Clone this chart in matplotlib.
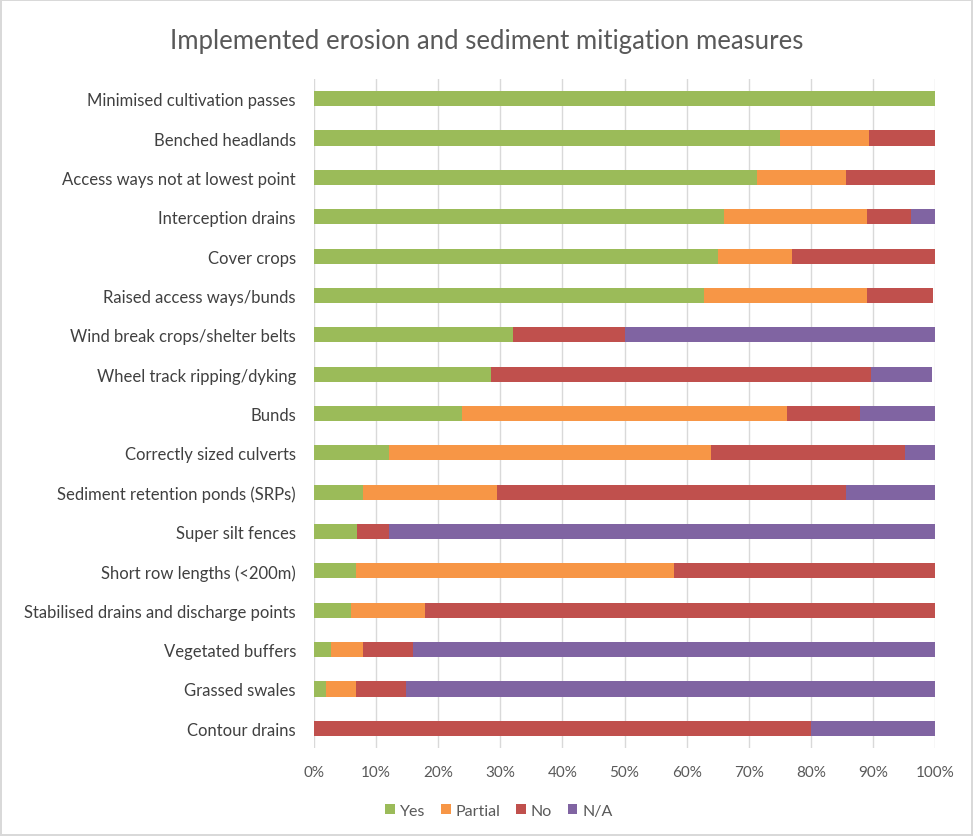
import numpy as np
import matplotlib
matplotlib.use("Agg")
import matplotlib.pyplot as plt
from matplotlib.patches import Patch

plt.rcParams["font.family"] = ["Lato", "DejaVu Sans"]

# categories, top to bottom
measures = [
    "Minimised cultivation passes",
    "Benched headlands",
    "Access ways not at lowest point",
    "Interception drains",
    "Cover crops",
    "Raised access ways/bunds",
    "Wind break crops/shelter belts",
    "Wheel track ripping/dyking",
    "Bunds",
    "Correctly sized culverts",
    "Sediment retention ponds (SRPs)",
    "Super silt fences",
    "Short row lengths (<200m)",
    "Stabilised drains and discharge points",
    "Vegetated buffers",
    "Grassed swales",
    "Contour drains",
]

# percentages
yes = [100, 75.0, 71.4, 66.0, 65.0, 62.8, 32.1, 28.5, 23.9, 12.0, 7.9, 6.9, 6.8, 6.0, 2.8, 1.9, 0]
partial = [0, 14.4, 14.3, 23.1, 12.0, 26.3, 0, 0, 52.2, 51.9, 21.5, 0, 51.2, 11.8, 5.1, 4.9, 0]
no = [0, 10.6, 14.3, 7.0, 23.0, 10.6, 17.9, 61.2, 11.8, 31.2, 56.2, 5.1, 42.0, 82.2, 8.0, 8.0, 80.0]
na = [0, 0, 0, 3.9, 0, 0, 50.0, 9.8, 12.1, 4.9, 14.4, 88.0, 0, 0, 84.1, 85.2, 20.0]

series_names = ["Yes", "Partial", "No", "N/A"]
colors = ["#9BBB59", "#F79646", "#C0504D", "#8064A2"]

W, H = 973, 837
fig = plt.figure(figsize=(W / 100, H / 100), dpi=100)
fig.patch.set_facecolor("white")
fig.patch.set_edgecolor("#D9D9D9")
fig.patch.set_linewidth(1.5)

ax = fig.add_axes([314 / W, 1 - 749 / H, (935 - 314) / W, (749 - 80) / H])

y = np.arange(len(measures))
left = np.zeros(len(measures))
for vals, name, col in zip([yes, partial, no, na], series_names, colors):
    vals = np.array(vals, dtype=float)
    ax.barh(y, vals, left=left, height=0.385, color=col, label=name, zorder=3)
    left += vals

ax.set_ylim(len(measures) - 0.5, -0.5)
ax.set_xlim(0, 100)
ax.set_yticks(y)
ax.set_yticklabels(measures, fontsize=12, color="#404040")
ax.set_xticks(np.arange(0, 101, 10))
ax.set_xticklabels([f"{v}%" for v in range(0, 101, 10)], fontsize=11, color="#595959")
ax.tick_params(axis="y", length=0, pad=13)
ax.tick_params(axis="x", length=0, pad=12)
ax.grid(axis="x", color="#D9D9D9", linewidth=1, zorder=0)
for s in ax.spines.values():
    s.set_visible(False)

fig.text(0.5, 1 - 42 / H, "Implemented erosion and sediment mitigation measures",
         ha="center", va="center", fontsize=18.5, color="#595959")

handles = [Patch(facecolor=c, label=n) for n, c in zip(series_names, colors)]
fig.legend(handles=handles, loc="center", bbox_to_anchor=(499 / W, 1 - 812 / H),
           ncol=4, frameon=False, fontsize=11.5, handlelength=0.6, handleheight=0.6,
           handletextpad=0.3, columnspacing=1.0, labelcolor="#595959")

fig.savefig("out.png", dpi=100, facecolor=fig.get_facecolor(), edgecolor=fig.get_edgecolor())
